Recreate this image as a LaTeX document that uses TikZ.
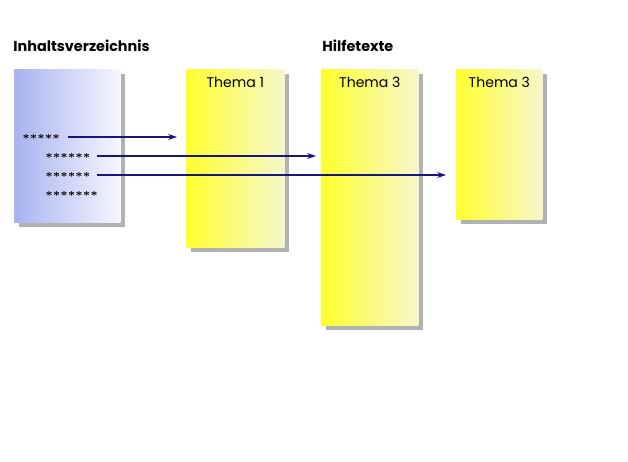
\documentclass[tikz,border=0pt]{standalone}
\usepackage{fontspec}
\setmainfont{Poppins}
\usetikzlibrary{positioning,shadows,arrows.meta}
\definecolor{tocBlue}{HTML}{A8B3F0}
\definecolor{tocWhite}{HTML}{F6F6FF}
\definecolor{topicYellow}{HTML}{FFFF2E}
\definecolor{topicMid}{HTML}{ECEC9C}
\definecolor{topicPale}{HTML}{F6F6CC}
\definecolor{linkBlue}{HTML}{16167E}
\newcommand{\starrow}[1]{{\boldmath$\foreach\k in {1,...,#1}{\mathord{\ast}}$}}
\tikzset{
    heading/.style={anchor=base west, inner sep=0pt, font=\fontsize{8.2}{10}\selectfont\bfseries},
    page/.style={anchor=north west, inner sep=0pt, draw=none,
        drop shadow={shadow xshift=2.4pt, shadow yshift=-2.4pt, opacity=0.3, fill=black}},
    tocpage/.style={page, left color=tocBlue, right color=tocWhite},
    topic/.style={page, left color=topicYellow, middle color=topicMid, right color=topicPale},
    topiclabel/.style={anchor=base, inner sep=0pt, font=\fontsize{8}{10}\selectfont},
    entry/.style={anchor=west, inner sep=0pt, font=\fontsize{5.6}{6}\selectfont},
    link/.style={draw=linkBlue, line width=1.4pt, -{Stealth[length=5pt,width=3.4pt]}}
}
\begin{document}
\begin{tikzpicture}[x=0.02cm, y=-0.02cm]
    \useasboundingbox (0,0) rectangle (628,462);
    % headings
    \node[heading] (tochead) at (13,52) {Inhaltsverzeichnis};
    \node[heading] (helphead) at (322,52) {Hilfetexte};
    % pages
    \node[tocpage, minimum width=2.12cm, minimum height=3.06cm] (toc) at (14,69) {};
    \node[topic, minimum width=1.96cm, minimum height=3.56cm] (t1) at (186,69) {};
    \node[topic, minimum width=1.94cm, minimum height=5.12cm] (t2) at (321,69) {};
    \node[topic, minimum width=1.72cm, minimum height=3.0cm] (t3) at (456,69) {};
    \node[topiclabel] (l1) at (t1.north |- 0,88) {Thema 1};
    \node[topiclabel] (l2) at (t2.north |- 0,88) {Thema 3};
    \node[topiclabel] (l3) at (t3.north |- 0,88) {Thema 3};
    % entries
    \node[entry] (e1) at (22,137) {\starrow{5}};
    \node[entry] (e2) at (45,156) {\starrow{6}};
    \node[entry] (e3) at (45,175) {\starrow{6}};
    \node[entry] (e4) at (45,194) {\starrow{7}};
    % links
    \draw[link, shorten <=0.15cm, shorten >=0.18cm] (e1.east) -- (e1.east -| t1.west);
    \draw[link, shorten <=0.13cm, shorten >=0.1cm] (e2.east) -- (e2.east -| t2.west);
    \draw[link, shorten <=0.13cm, shorten >=0.2cm] (e3.east) -- (e3.east -| t3.west);
\end{tikzpicture}
\end{document}
